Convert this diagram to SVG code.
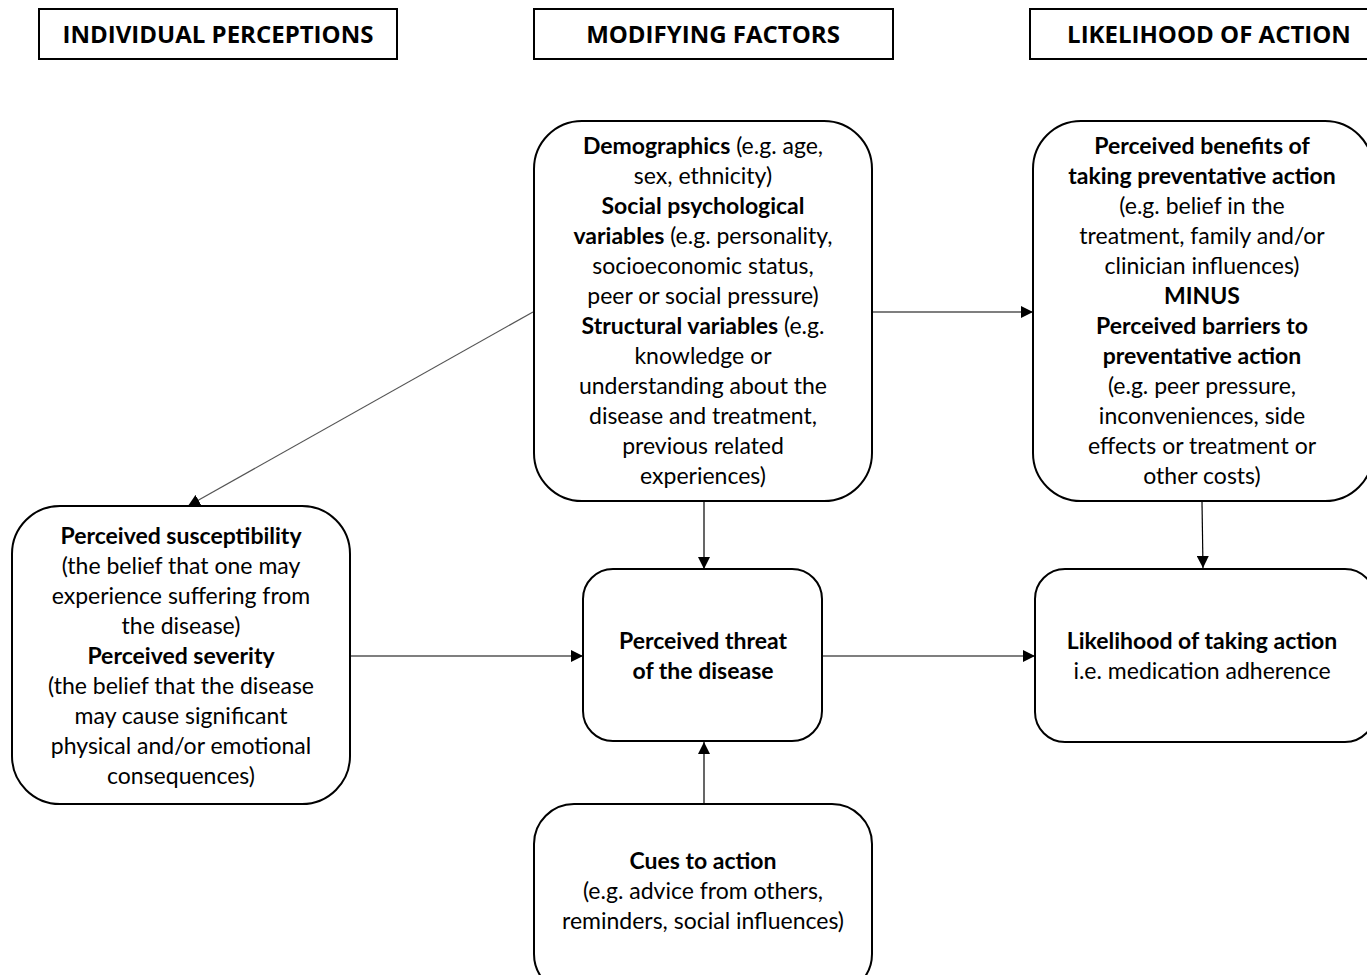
<svg xmlns="http://www.w3.org/2000/svg" width="1367" height="975" viewBox="0 0 1367 975">
<style>
.hdr{fill:#fff;stroke:#000;stroke-width:2}
.node{fill:#fff;stroke:#000;stroke-width:2}
.ht{font-family:"Open Sans","Liberation Sans",sans-serif;font-weight:bold;font-size:24px;fill:#000;text-anchor:middle;dominant-baseline:central}
.t{font-family:Lato,"Liberation Sans",sans-serif;font-size:23px;fill:#000;text-anchor:middle;dominant-baseline:central}
.b{font-weight:bold}
.c{stroke:#000;stroke-width:1.2;fill:none;marker-end:url(#ah)}
.cg{stroke:#555;stroke-width:1.2;fill:none;marker-end:url(#ah)}
</style>
<defs>
<marker id="ah" viewBox="0 0 10 10" refX="10" refY="5" markerWidth="12" markerHeight="12" markerUnits="userSpaceOnUse" orient="auto">
<path d="M0,0 L10,5 L0,10 z" fill="#000"/>
</marker>
</defs>
<rect width="1367" height="975" fill="#fff"/>
<g id="connectors">
<line class="cg" x1="533" y1="312" x2="188" y2="506"/>
<line class="c" x1="873" y1="312" x2="1033" y2="312"/>
<line class="c" x1="704" y1="502" x2="704" y2="569"/>
<line class="c" x1="1202" y1="502" x2="1203" y2="568"/>
<line class="c" x1="351" y1="656" x2="583" y2="656"/>
<line class="c" x1="823" y1="656" x2="1035" y2="656"/>
<line class="c" x1="704" y1="804" x2="704" y2="742"/>
</g>
<g id="hdr-individual">
<rect class="hdr" x="39" y="9" width="358" height="50"/>
<text class="ht" x="218" y="33">INDIVIDUAL PERCEPTIONS</text>
</g>
<g id="hdr-modifying">
<rect class="hdr" x="534" y="9" width="359" height="50"/>
<text class="ht" x="713" y="33">MODIFYING FACTORS</text>
</g>
<g id="hdr-likelihood">
<rect class="hdr" x="1030" y="9" width="345" height="50"/>
<text class="ht" x="1209" y="33">LIKELIHOOD OF ACTION</text>
</g>
<g id="node-modifying">
<rect class="node" x="534" y="121" width="338" height="380" rx="48"/>
<text class="t" x="703" y="145"><tspan class="b">Demographics</tspan> (e.g. age,</text>
<text class="t" x="703" y="175">sex, ethnicity)</text>
<text class="t b" x="703" y="205">Social psychological</text>
<text class="t" x="703" y="235"><tspan class="b">variables</tspan> (e.g. personality,</text>
<text class="t" x="703" y="265">socioeconomic status,</text>
<text class="t" x="703" y="295">peer or social pressure)</text>
<text class="t" x="703" y="325"><tspan class="b">Structural variables</tspan> (e.g.</text>
<text class="t" x="703" y="355">knowledge or</text>
<text class="t" x="703" y="385">understanding about the</text>
<text class="t" x="703" y="415">disease and treatment,</text>
<text class="t" x="703" y="445">previous related</text>
<text class="t" x="703" y="475">experiences)</text>
</g>
<g id="node-benefits">
<rect class="node" x="1033" y="121" width="340" height="380" rx="48"/>
<text class="t b" x="1202" y="145">Perceived benefits of</text>
<text class="t b" x="1202" y="175">taking preventative action</text>
<text class="t" x="1202" y="205">(e.g. belief in the</text>
<text class="t" x="1202" y="235">treatment, family and/or</text>
<text class="t" x="1202" y="265">clinician influences)</text>
<text class="t b" x="1202" y="295">MINUS</text>
<text class="t b" x="1202" y="325">Perceived barriers to</text>
<text class="t b" x="1202" y="355">preventative action</text>
<text class="t" x="1202" y="385">(e.g. peer pressure,</text>
<text class="t" x="1202" y="415">inconveniences, side</text>
<text class="t" x="1202" y="445">effects or treatment or</text>
<text class="t" x="1202" y="475">other costs)</text>
</g>
<g id="node-perceptions">
<rect class="node" x="12" y="506" width="338" height="298" rx="48"/>
<text class="t b" x="181" y="535">Perceived susceptibility</text>
<text class="t" x="181" y="565">(the belief that one may</text>
<text class="t" x="181" y="595">experience suffering from</text>
<text class="t" x="181" y="625">the disease)</text>
<text class="t b" x="181" y="655">Perceived severity</text>
<text class="t" x="181" y="685">(the belief that the disease</text>
<text class="t" x="181" y="715">may cause significant</text>
<text class="t" x="181" y="745">physical and/or emotional</text>
<text class="t" x="181" y="775">consequences)</text>
</g>
<g id="node-threat">
<rect class="node" x="583" y="569" width="239" height="172" rx="30"/>
<text class="t b" x="703" y="640">Perceived threat</text>
<text class="t b" x="703" y="670">of the disease</text>
</g>
<g id="node-action">
<rect class="node" x="1035" y="569" width="340" height="173" rx="30"/>
<text class="t b" x="1202" y="640">Likelihood of taking action</text>
<text class="t" x="1202" y="670">i.e. medication adherence</text>
</g>
<g id="node-cues">
<rect class="node" x="534" y="804" width="338" height="190" rx="40"/>
<text class="t b" x="703" y="860">Cues to action</text>
<text class="t" x="703" y="890">(e.g. advice from others,</text>
<text class="t" x="703" y="920">reminders, social influences)</text>
</g>
</svg>
